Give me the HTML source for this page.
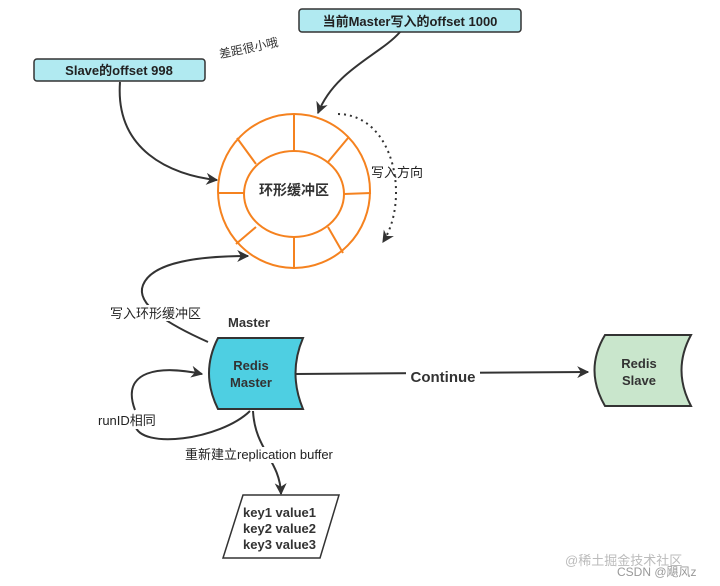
<!DOCTYPE html>
<html><head><meta charset="utf-8"><style>
html,body{margin:0;padding:0;background:#fff;}
svg{display:block;font-family:"Liberation Sans","Noto Sans CJK SC",sans-serif;}
</style></head><body>
<svg width="720" height="586" viewBox="0 0 720 586" xmlns="http://www.w3.org/2000/svg">
<defs>
<marker id="a" viewBox="0 0 10 10" refX="9" refY="5" markerWidth="12" markerHeight="12" markerUnits="userSpaceOnUse" orient="auto"><path d="M0,0 L10,5 L0,10 L3,5 z" fill="#333"/></marker>
</defs>
<rect x="299" y="9" width="222" height="23" rx="3" fill="#b1eaf1" stroke="#333" stroke-width="1.5"/>
<text x="410" y="26" font-size="13" font-weight="bold" text-anchor="middle" fill="#222">当前Master写入的offset 1000</text>
<rect x="34" y="59" width="171" height="22" rx="3" fill="#b1eaf1" stroke="#333" stroke-width="1.5"/>
<text x="119" y="75" font-size="13" font-weight="bold" text-anchor="middle" fill="#222">Slave的offset 998</text>
<text x="218" y="52" font-size="12" fill="#333" transform="rotate(-12 250 45)">差距很小哦</text>
<path d="M400,32 C380,55 335,70 318,113" fill="none" stroke="#333" stroke-width="2" marker-end="url(#a)"/>
<path d="M120,82 C115,150 170,175 217,180" fill="none" stroke="#333" stroke-width="2" marker-end="url(#a)"/>
<path d="M338,114 C395,115 410,200 383,242" fill="none" stroke="#333" stroke-width="2" stroke-dasharray="2,4" marker-end="url(#a)"/>
<text x="371" y="177" font-size="13" fill="#222">写入方向</text>
<g stroke="#f5821f" stroke-width="2" fill="#fff">
<ellipse cx="294" cy="191" rx="76" ry="77"/>
<ellipse cx="294" cy="194" rx="50" ry="43"/>
<line x1="294" y1="114" x2="294" y2="151"/>
<line x1="294" y1="237" x2="294" y2="269"/>
<line x1="218" y1="193" x2="244" y2="193"/>
<line x1="344" y1="194" x2="371" y2="193"/>
<line x1="237" y1="138" x2="256" y2="164"/>
<line x1="348" y1="138" x2="328" y2="162"/>
<line x1="256" y1="227" x2="236" y2="244"/>
<line x1="328" y1="227" x2="343" y2="253"/>
</g>
<text x="294" y="195" font-size="14" font-weight="bold" text-anchor="middle" fill="#333">环形缓冲区</text>
<path d="M208,342 C170,325 135,305 143,285 C152,262 200,256 248,256" fill="none" stroke="#333" stroke-width="2" marker-end="url(#a)"/>
<rect x="108" y="305" width="96" height="16" fill="#fff"/>
<text x="110" y="318" font-size="13" fill="#222">写入环形缓冲区</text>
<text x="228" y="327" font-size="13" font-weight="bold" fill="#333">Master</text>
<path d="M218,338 L303,338 Q288,373 303,409 L218,409 Q200,373 218,338 z" fill="#4ecfe2" stroke="#333" stroke-width="2"/>
<text x="251" y="370" font-size="13" font-weight="bold" text-anchor="middle" fill="#333">Redis</text>
<text x="251" y="387" font-size="13" font-weight="bold" text-anchor="middle" fill="#333">Master</text>
<path d="M605,335 L691,335 Q672,370 691,406 L605,406 Q584,370 605,335 z" fill="#c9e6cc" stroke="#333" stroke-width="2"/>
<text x="639" y="368" font-size="13" font-weight="bold" text-anchor="middle" fill="#333">Redis</text>
<text x="639" y="385" font-size="13" font-weight="bold" text-anchor="middle" fill="#333">Slave</text>
<line x1="295" y1="374" x2="588" y2="372" stroke="#333" stroke-width="2" marker-end="url(#a)"/>
<rect x="406" y="366" width="74" height="18" fill="#fff"/>
<text x="443" y="382" font-size="15" font-weight="bold" text-anchor="middle" fill="#333">Continue</text>
<path d="M250,411 C220,440 140,450 135,425 M135,410 C120,370 160,365 202,374" fill="none" stroke="#333" stroke-width="2" marker-end="url(#a)"/>
<rect x="96" y="411" width="64" height="18" fill="#fff"/>
<text x="98" y="425" font-size="13" fill="#222">runID相同</text>
<path d="M253,411 C255,450 280,460 281,494" fill="none" stroke="#333" stroke-width="2" marker-end="url(#a)"/>
<rect x="184" y="447" width="168" height="16" fill="#fff"/>
<text x="185" y="459" font-size="13" fill="#222">重新建立replication buffer</text>
<path d="M243,495 L339,495 L320,558 L223,558 z" fill="#fff" stroke="#333" stroke-width="1.5"/>
<text x="243" y="517" font-size="13" font-weight="bold" fill="#333">key1 value1</text>
<text x="243" y="533" font-size="13" font-weight="bold" fill="#333">key2 value2</text>
<text x="243" y="549" font-size="13" font-weight="bold" fill="#333">key3 value3</text>
<text x="565" y="565" font-size="13" fill="#bbb">@稀土掘金技术社区</text>
<text x="617" y="576" font-size="12" fill="#999">CSDN @飓风z</text>
</svg>
</body></html>
